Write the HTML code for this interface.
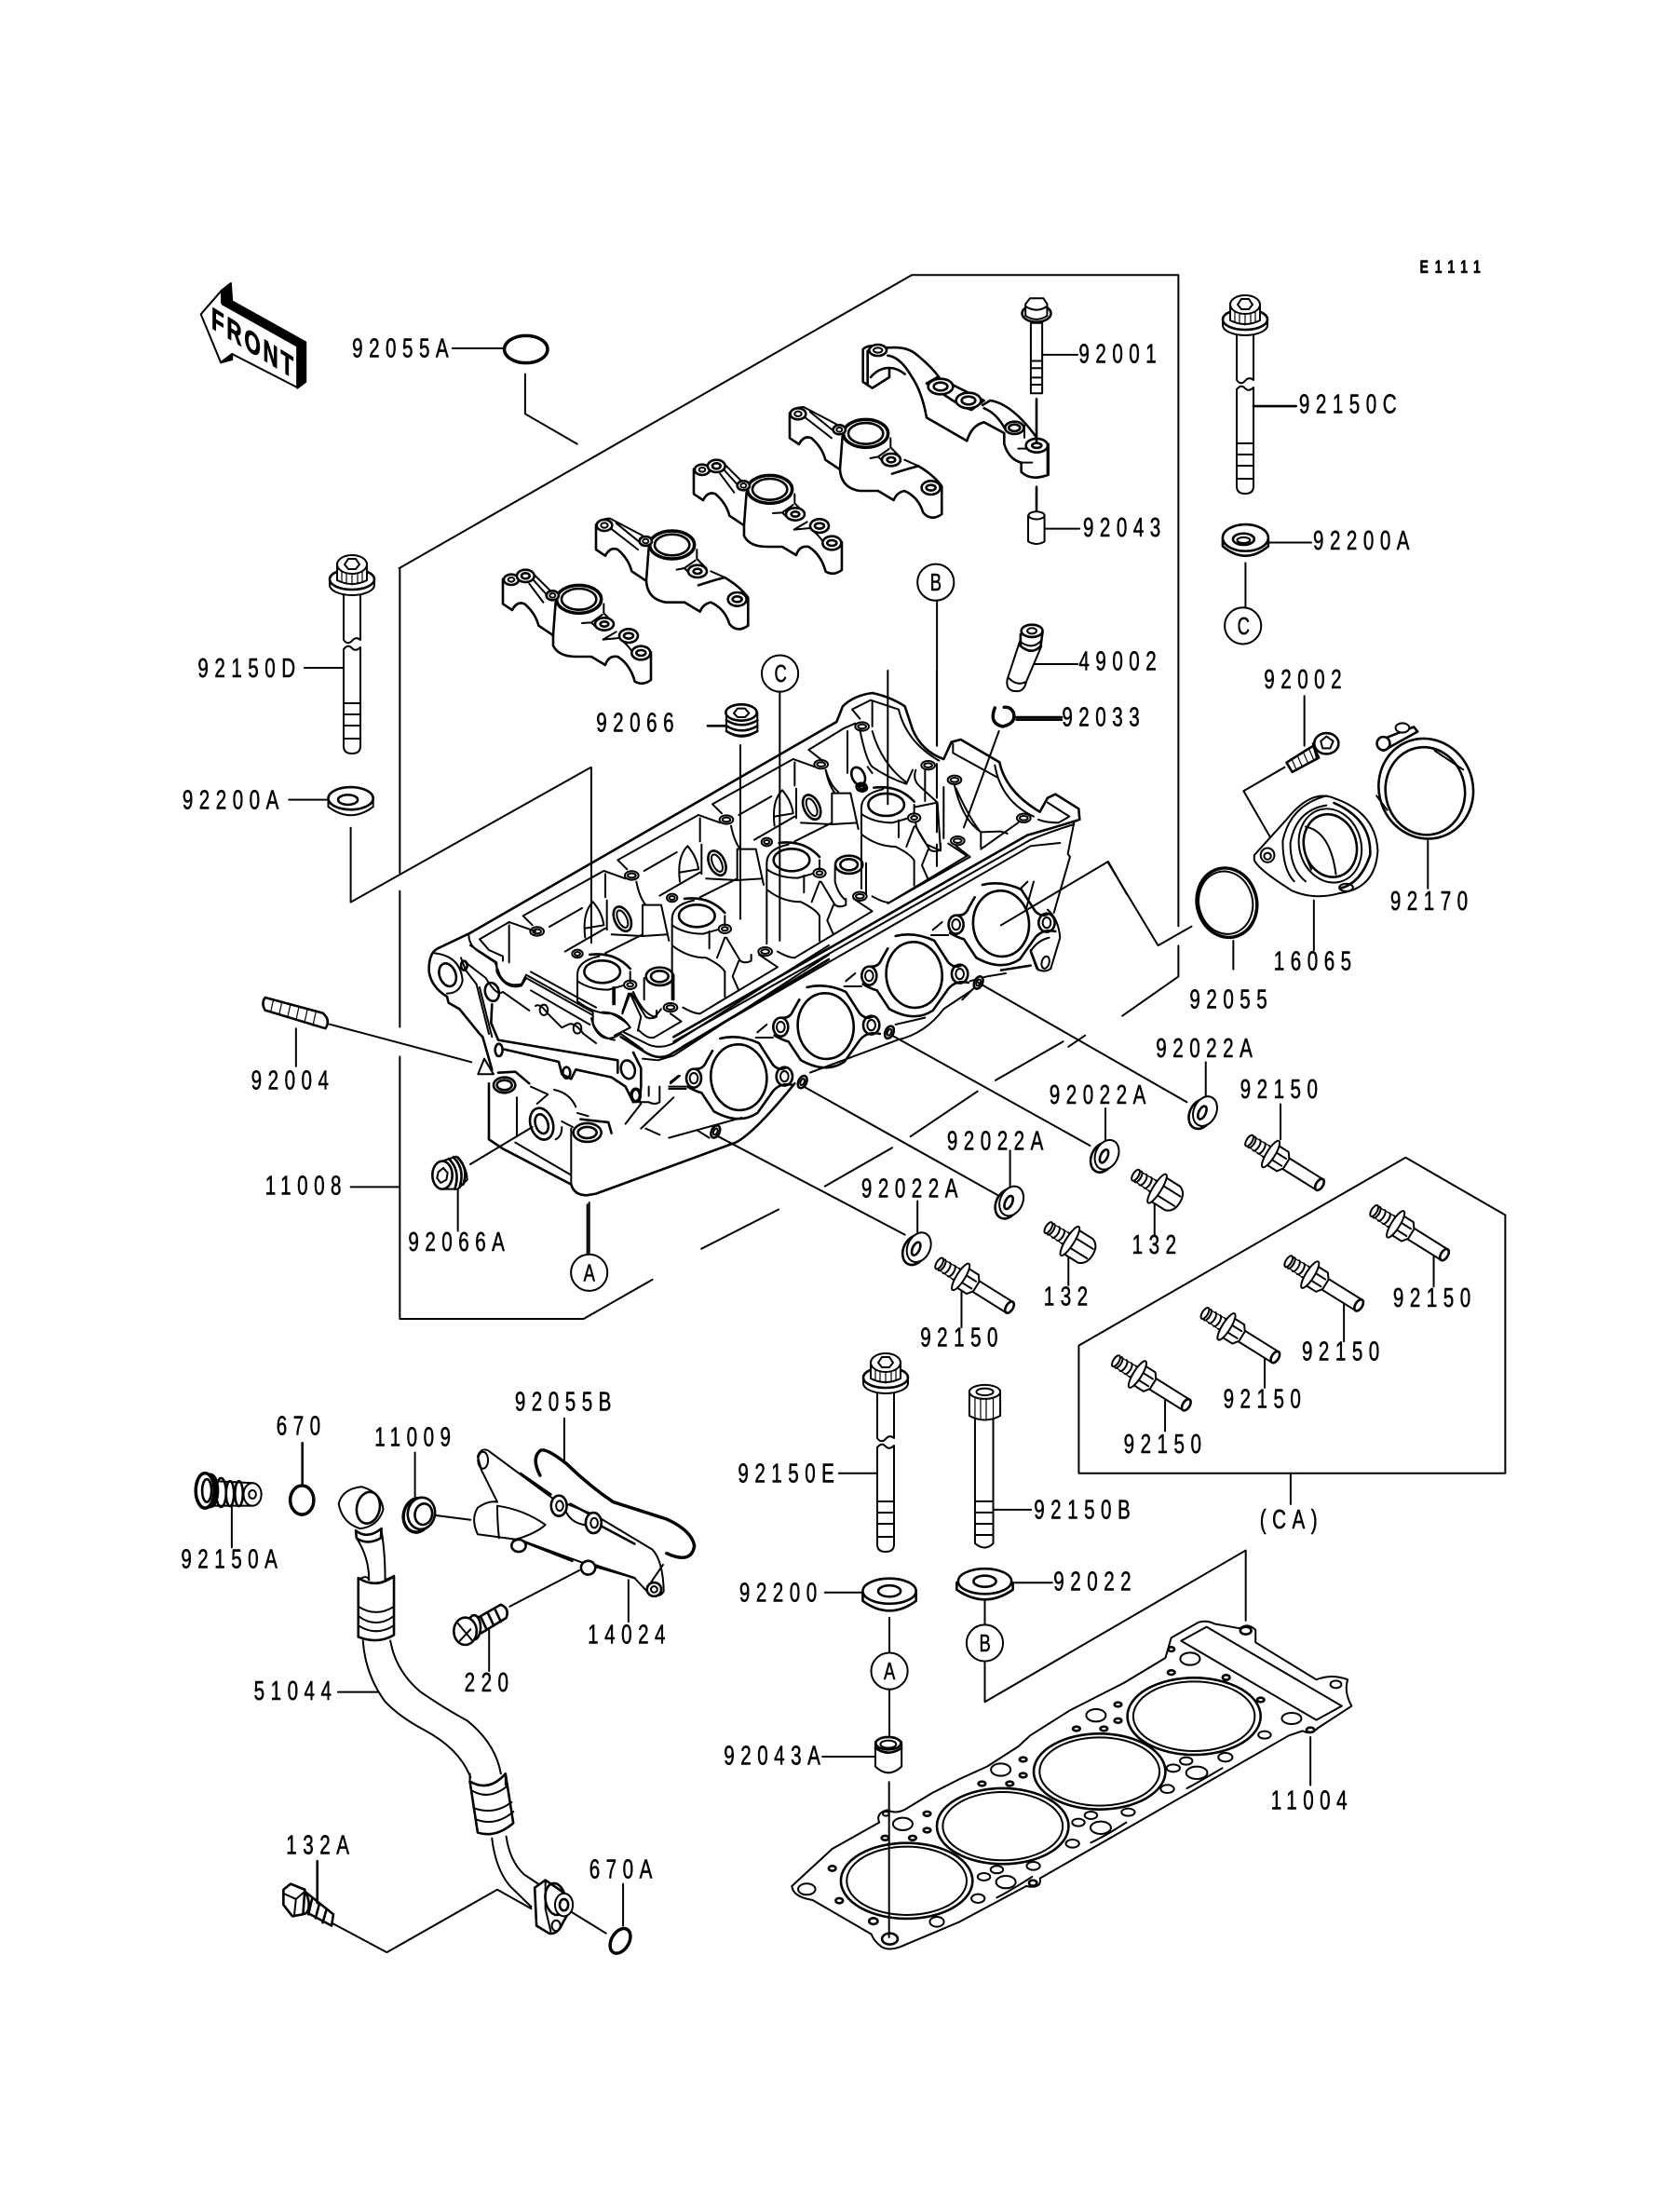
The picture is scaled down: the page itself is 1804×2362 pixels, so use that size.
<!DOCTYPE html>
<html><head><meta charset="utf-8"><style>
html,body{margin:0;padding:0;background:#fff}
svg{display:block}
svg *{vector-effect:non-scaling-stroke}
text{font-family:"Liberation Sans",sans-serif;fill:#000;stroke:#000;stroke-width:.5}
.h{stroke-width:3.5}
.m{stroke-width:2.6}
.w{fill:#fff}
.b{fill:#000}
.th{stroke-width:1.2}
</style></head><body>
<svg width="1804" height="2362" viewBox="0 0 1804 2362" fill="none" stroke="#000" stroke-width="2" stroke-linejoin="round" stroke-linecap="round">
<defs>
<g id="lb">
<path d="M-9 38V92Q-5 98 0 93Q4 88 9 92V38"/>
<path d="M-9 102Q-4 96 0 101Q4 105 9 100V206Q9 214 0 214Q-9 214-9 206Z"/>
<path d="M-9 160H9M-9 172H9M-9 184H9M-9 198H9"/>
<path class="w" d="M-24 27A24 11 0 0 0 24 27V33A24 11 0 0 1-24 33Z"/>
<ellipse class="w m" cx="0" cy="27" rx="24" ry="11"/>
<path class="w" d="M-16 10V28Q0 36 16 28V10Z"/>
<path class="th" d="M-11 16V30M-6 18V32M0 18V33M6 18V32M11 16V30"/>
<ellipse class="w" cx="0" cy="11" rx="16" ry="10"/>
<path d="M-8 11L-4 5H4L8 11L4 16H-4Z"/>
</g>
<!-- double-ended cap, crop coords -->
<g id="capD">
<path class="m" d="M45 95V175L75 195Q90 165 115 175Q150 205 160 245L205 275M215 170L207 275V310Q225 345 280 345H330L375 372Q385 340 415 345Q455 370 470 425Q495 440 522 420V330"/>
<path d="M145 80L195 130M130 110L175 170M145 100L190 150M370 175V205L400 235M300 237L330 235L365 210M330 235L350 255M368 290L410 265M368 290L420 285Q450 310 462 330"/>
<ellipse class="w h" cx="290" cy="160" rx="72" ry="45"/>
<ellipse class="m" cx="290" cy="160" rx="56" ry="34"/>
<ellipse class="w m" cx="72" cy="97" rx="24" ry="17"/><ellipse cx="72" cy="97" rx="10" ry="7"/>
<ellipse class="w m" cx="118" cy="85" rx="28" ry="20"/><ellipse class="m" cx="118" cy="85" rx="13" ry="9"/>
<ellipse class="w m" cx="205" cy="148" rx="20" ry="15"/><ellipse cx="205" cy="148" rx="9" ry="7"/>
<ellipse class="w m" cx="372" cy="240" rx="30" ry="20"/><ellipse class="m" cx="372" cy="240" rx="13" ry="8"/>
<ellipse class="w m" cx="450" cy="278" rx="30" ry="22"/><ellipse class="m" cx="450" cy="278" rx="15" ry="9"/>
<ellipse class="w m" cx="490" cy="333" rx="30" ry="22"/><ellipse class="m" cx="490" cy="333" rx="15" ry="9"/>
</g>
<!-- single-ended cap, crop coords (native at cap2) -->
<g id="capS">
<path class="m" d="M345 -80V0L375 20Q390 -10 415 0Q450 30 460 70L505 100M515 -5L507 100Q510 160 570 170H630L680 200Q690 175 715 170Q760 190 775 240Q800 270 835 245V155Q810 120 760 90Q720 100 675 115"/>
<path d="M345 -80Q360 -100 390 -100L495 -45M390 -70L480 0M410 -85L490 -20M670 0V30L700 60M605 65L630 60L665 35M630 60L650 80M715 70L760 90"/>
<ellipse class="w h" cx="590" cy="-15" rx="72" ry="45"/>
<ellipse class="m" cx="590" cy="-15" rx="56" ry="34"/>
<ellipse class="w m" cx="372" cy="-78" rx="25" ry="18"/><ellipse cx="372" cy="-78" rx="11" ry="8"/>
<ellipse class="w m" cx="505" cy="-27" rx="20" ry="15"/><ellipse cx="505" cy="-27" rx="9" ry="7"/>
<ellipse class="w m" cx="672" cy="70" rx="30" ry="20"/><ellipse class="m" cx="672" cy="70" rx="13" ry="8"/>
<ellipse class="w m" cx="800" cy="160" rx="30" ry="22"/><ellipse class="m" cx="800" cy="160" rx="15" ry="9"/>
</g>
<!-- head parts in B-crop coords -->
<g id="upper">
<path d="M15 430L275 285L345 310M15 430L45 460M100 465L205 405M280 295V370M285 380V475"/>
<path d="M240 385Q205 420 215 500M240 385Q270 420 275 460L215 470"/>
<ellipse class="m" cx="335" cy="440" rx="25" ry="42" transform="rotate(-25 335 440)"/>
<ellipse cx="335" cy="440" rx="14" ry="30" transform="rotate(-25 335 440)"/>
<path d="M380 320Q390 370 410 395M400 395V495M400 395H460L485 510M300 490L400 495L480 490M150 545L280 470M280 550L400 490"/>
</g>
<g id="core">
<path class="m" d="M230 555Q310 545 360 600"/>
<path d="M190 620Q190 575 260 560M360 610V640M190 640Q230 668 290 668L335 655"/>
<ellipse class="m" cx="270" cy="610" rx="58" ry="36"/>
<path d="M190 620V705Q240 745 300 745Q350 770 360 790M310 660V715M360 680L335 745M365 680L410 755Q425 765 445 755L445 735"/>
<ellipse cx="190" cy="552" rx="17" ry="13"/><ellipse cx="190" cy="552" rx="9" ry="6"/>
<ellipse cx="360" cy="652" rx="20" ry="14"/><ellipse cx="360" cy="652" rx="10" ry="6"/>
<ellipse cx="60" cy="480" rx="22" ry="14"/><ellipse cx="60" cy="480" rx="13" ry="7"/>
</g>
<g id="floor">
<path d="M360 790V870M190 710V880M405 755L385 805L405 850M225 905Q260 925 280 925L530 775L470 735"/>
<ellipse cx="185" cy="905" rx="22" ry="14"/><ellipse cx="185" cy="905" rx="13" ry="7"/>
</g>
<g id="port">
<ellipse class="m" cx="380" cy="1145" rx="90" ry="106" transform="rotate(-5 380 1145)"/>
<ellipse class="m" cx="235" cy="1148" rx="24" ry="30"/><ellipse cx="235" cy="1148" rx="13" ry="17"/>
<ellipse class="m" cx="527" cy="1142" rx="26" ry="30"/><ellipse cx="527" cy="1142" rx="13" ry="17"/>
<path class="m" d="M215 1175Q240 1190 260 1195L300 1255Q380 1300 440 1260L490 1190Q515 1160 555 1170"/>
<path class="m" d="M240 1118Q265 1120 275 1095L295 1060M320 1020Q380 1005 445 1035L490 1105Q510 1125 530 1115"/>
<path d="M155 1182H210M160 1165L190 1140"/>
</g>
<g id="sb">
<path class="th" d="M-16-4L-3-4.500M-16 4L-3 4.500"/>
<path d="M-15-4.500A2 4.500 0 0 1-15 4.500M-11-4.500A2 4.500 0 0 1-11 4.500M-7-4.500A2 4.500 0 0 1-7 4.500M-3-4.500A2 4.500 0 0 1-3 4.500"/>
<ellipse cx="-17" cy="0" rx="2" ry="4.500"/>
<path class="w" d="M10-4.500H42V4.500H10Z"/>
<ellipse class="w m" cx="42" cy="0" rx="2.500" ry="4.500"/>
<path class="w" d="M2-8H11L14-4V4L11 8H2Z"/>
<path d="M3-3H12M3 3H12"/>
<ellipse class="w" cx="1" cy="0" rx="3" ry="11"/>
</g>
<g id="sh">
<path d="M-15-4.500A2 4.500 0 0 1-15 4.500M-11-4.500A2 4.500 0 0 1-11 4.500M-7-4.500A2 4.500 0 0 1-7 4.500M-3-4.500A2 4.500 0 0 1-3 4.500"/>
<ellipse cx="-17" cy="0" rx="2" ry="4.500"/>
<path class="th" d="M-16-4L-3-4.500M-16 4L-3 4.500"/>
<path class="w" d="M2-10H14Q20-8 20 0Q20 8 14 10H2Z"/>
<path d="M3-4H18M3 4H18"/>
<ellipse class="w" cx="1" cy="0" rx="3" ry="12"/>
</g>
</defs>

<!-- front, ring -->
<g transform="translate(180 260) scale(.4464 .3333)">
<path class="w" d="M80 232L130 155V195L312 335V468L155 360L128 388Z"/>
<path class="b" d="M130 155L152 132L155 190L332 322V450L312 470V335L132 200Z"/>
<path class="b" d="M128 388L155 378V360Z"/>
<ellipse class="h" cx="862" cy="345" rx="52" ry="44"/>
<path d="M685 342H808M860 425V553L985 650"/>
</g>
<text font-size="33" font-weight="700" letter-spacing="4" style="stroke-width:.8" transform="matrix(.68 .42 0 1 227 352)">FRONT</text>

<!-- bearing caps -->
<g transform="translate(525 590) scale(.3333)">
<use href="#capD"/>
<use href="#capS"/>
<use href="#capD" transform="translate(615 -354)"/>
<use href="#capS" transform="translate(624 -359)"/>
</g>
<g transform="translate(900 340) scale(.3333)">
<path class="m" d="M80 105Q95 90 125 95L160 100Q220 95 250 120Q300 160 325 195M80 105V210L110 230L165 195V165Q130 165 105 195M95 110V215M160 125Q200 130 235 190Q270 240 285 325L415 400Q430 350 470 340L535 375V410Q550 460 590 470V500Q620 530 675 510V415M465 285L490 270Q560 280 640 390M470 295Q510 310 540 365M165 165Q190 165 215 185"/>
<path class="m" d="M285 215L320 195L470 270L430 300L400 290Z"/>
<ellipse class="w m" cx="128" cy="108" rx="28" ry="18"/><ellipse cx="128" cy="108" rx="14" ry="8"/>
<ellipse class="w m" cx="330" cy="225" rx="40" ry="25"/><ellipse class="m" cx="330" cy="225" rx="22" ry="13"/>
<ellipse class="w m" cx="420" cy="270" rx="40" ry="25"/><ellipse class="m" cx="420" cy="270" rx="22" ry="13"/>
<ellipse class="w m" cx="568" cy="358" rx="30" ry="20"/><ellipse class="m" cx="568" cy="358" rx="18" ry="11"/>
<ellipse class="w m" cx="640" cy="415" rx="35" ry="22"/><ellipse class="m" cx="640" cy="415" rx="15" ry="8"/>
<path d="M600 350V390M678 410V510M580 425H610M585 470H625"/>
</g>

<use href="#lb" transform="translate(378 595)"/>
<use href="#lb" transform="translate(1337 316)"/>
<use href="#lb" transform="translate(951 1452)"/>

<!-- Head: crop B coordinates -->
<g transform="translate(760 720) scale(.3333)">
<use href="#upper" transform="translate(-610 360)"/>
<use href="#upper" transform="translate(-305 180)"/>
<use href="#upper"/>
<use href="#core" transform="translate(-610 360)"/>
<use href="#core" transform="translate(-305 180)"/>
<use href="#core"/>
<use href="#core" transform="translate(305 -178)"/>
<use href="#floor" transform="translate(-305 180)"/>
<use href="#floor"/>
<use href="#floor" transform="translate(305 -178)"/>
<ellipse class="m" cx="455" cy="625" rx="44" ry="29"/><ellipse class="m" cx="455" cy="625" rx="28" ry="18"/>
<path d="M410 630V680Q420 720 445 740M510 620V720"/>
<ellipse class="m" cx="-155" cy="985" rx="44" ry="29"/><ellipse class="m" cx="-155" cy="985" rx="28" ry="18"/>
<path d="M-205 990V1060M-110 980V1060"/>
<path class="m" d="M-765 845L415 165L435 115Q470 80 530 72Q590 85 635 115L660 190Q690 260 760 285L785 230L815 222L940 295Q960 390 1070 455L1095 410L1120 398L1195 445L1198 480"/>
<path d="M325 255L440 185L475 170M325 255L370 290M465 125L525 95L615 125Q640 230 745 290M465 125L490 155M1095 425L1165 470L1130 490Q1090 490 1065 480"/>
<path d="M790 235V265L935 345M795 370Q820 480 880 520V570M880 575L1000 490M880 520L945 518L965 525M800 380Q840 470 875 515M760 375V540M925 305Q945 420 1050 470M530 100V180M490 190Q510 290 530 310Q580 345 640 365L660 320M530 195Q560 300 640 360M450 195V330M380 320Q395 370 420 390M700 320V420M670 320Q660 350 680 370L740 425L750 580L705 560Q670 510 670 490M665 440L740 425"/>
<ellipse class="m" cx="485" cy="340" rx="20" ry="30" transform="rotate(-25 485 340)"/>
<path d="M515 310L530 330"/>
<ellipse cx="497" cy="180" rx="22" ry="14"/><ellipse cx="497" cy="180" rx="13" ry="7"/>
<ellipse cx="710" cy="305" rx="22" ry="14"/><ellipse cx="710" cy="305" rx="13" ry="7"/>
<ellipse cx="795" cy="352" rx="22" ry="14"/><ellipse cx="795" cy="352" rx="13" ry="7"/>
<ellipse cx="1018" cy="475" rx="22" ry="14"/><ellipse cx="1018" cy="475" rx="13" ry="7"/>
<ellipse cx="805" cy="548" rx="22" ry="14"/><ellipse cx="805" cy="548" rx="13" ry="7"/>
<ellipse cx="497" cy="378" rx="17" ry="12"/><ellipse cx="497" cy="378" rx="9" ry="6"/>
<path d="M580 750L845 600L800 565"/>
<path class="m" d="M1192 482Q1100 510 1030 530L-110 1180"/>
<path d="M1180 495Q1100 520 1040 545L-110 1195M1135 555L1040 565L-80 1210"/>
<path d="M1180 490L1160 590L1167 600L1115 780"/>
<use href="#port" transform="translate(-280 165)"/>
<use href="#port"/>
<use href="#port" transform="translate(285 -165)"/>
<use href="#port" transform="translate(565 -330)"/>
<path d="M1095 770Q1130 800 1135 860L1105 960Q1085 975 1060 960L1040 905Q1060 870 1100 860M1040 900L1065 965M1050 680L1025 770M1030 680L1005 705"/>
<ellipse cx="1088" cy="940" rx="12" ry="20" transform="rotate(15 1088 940)"/>
<path class="m" d="M945 965L1040 950"/>
<path d="M845 1000L900 985L960 975M820 1060L860 1020M605 1140L700 1118M330 1295L610 1190Q700 1170 760 1090L850 1030"/>
<g class="m">
<ellipse class="w" cx="872" cy="1005" rx="13" ry="21" transform="rotate(25 872 1005)"/>
<ellipse class="w" cx="585" cy="1165" rx="13" ry="21" transform="rotate(25 585 1165)"/>
<ellipse class="w" cx="305" cy="1325" rx="13" ry="21" transform="rotate(25 305 1325)"/>
</g>
<ellipse cx="872" cy="1005" rx="6" ry="11" transform="rotate(25 872 1005)"/>
<ellipse cx="585" cy="1165" rx="6" ry="11" transform="rotate(25 585 1165)"/>
<ellipse cx="305" cy="1325" rx="6" ry="11" transform="rotate(25 305 1325)"/>
<path d="M232 60V870M105 240V800M580 0V430M738 0V240M738 300V410M738 430V520M738 560V630M938 195L825 505M945 820L1290 615L1350 720"/>
<!-- 92066 plug -->
<path class="w" d="M60 135V195Q108 230 160 195V135Z"/>
<path class="m" d="M60 160Q108 190 160 160M60 178Q108 208 160 178M60 195Q108 225 160 195"/>
<ellipse class="w m" cx="108" cy="135" rx="50" ry="26"/>
<path d="M84 137L96 122H120L133 137L120 150H96Z"/>
<path class="m" d="M0 178H58"/>
<path class="h" d="M925 120Q905 170 950 180Q995 170 985 135Q975 115 955 118"/>
<path class="m" d="M995 150H1140M995 158H1140"/>
</g>

<!-- Head: crop A coordinates -->
<g transform="translate(440 900) scale(.3333)">
<path class="m" d="M90 355L195 305M90 355Q60 370 62 430Q70 480 120 510L125 530L160 550L225 630L235 640L265 745"/>
<path d="M80 370Q165 380 170 460Q160 500 120 500"/>
<ellipse class="m" cx="122" cy="440" rx="26" ry="38" transform="rotate(-20 122 440)"/>
<ellipse class="m" cx="175" cy="410" rx="10" ry="15"/>
<path d="M165 385L180 425L215 470L255 630M225 480L265 640M180 400L245 450Q280 510 300 495L385 555"/>
<path d="M190 310Q190 340 215 360L275 400L290 440Q310 480 360 470L375 440L590 560V600Q620 670 680 630L750 680"/>
<path d="M195 345L280 400V430Q310 490 360 475L375 450L590 570M225 325L320 270L405 300M225 325L255 360L300 380V395M320 280V400M390 430L600 545M620 560Q680 560 710 610L690 620L660 635M585 580Q600 640 660 650M390 490L580 600"/>
<path class="m" d="M680 640L760 690Q810 720 850 690L1350 390"/>
<path d="M690 625L770 665Q810 680 850 660L1350 345M750 710L800 715L850 700L1350 375"/>
<path d="M405 540Q420 530 445 565L490 610L510 600Q530 590 560 630L600 660"/>
<path class="m" d="M265 535L262 595L285 650L670 715V755M305 680L480 720L490 760L520 775L535 745L650 770L695 800L720 850M720 690L745 740V800L740 850"/>
<ellipse class="m" cx="265" cy="495" rx="22" ry="30" transform="rotate(-15 265 495)"/>
<ellipse class="m" cx="287" cy="682" rx="12" ry="20"/>
<ellipse class="m" cx="505" cy="755" rx="12" ry="18"/>
<ellipse class="m" cx="703" cy="745" rx="22" ry="30" transform="rotate(-15 703 745)"/>
<ellipse class="h" cx="728" cy="828" rx="14" ry="20"/>
<ellipse cx="432" cy="553" rx="13" ry="17"/>
<ellipse cx="540" cy="612" rx="13" ry="17"/>
<path d="M655 480V535M705 500L685 560M710 500L745 575L735 620M720 495Q755 570 790 575L810 550M740 620Q770 650 790 640L875 590L840 565M850 440V520"/>
<path class="m" d="M255 790V970L300 1000L520 1115Q530 1150 570 1150L600 1145L1050 980Q1110 950 1240 790"/>
<path d="M340 980L520 1085M520 935V1115M345 835V960"/>
<ellipse class="m" cx="305" cy="795" rx="35" ry="25"/><ellipse class="m" cx="305" cy="795" rx="24" ry="16"/>
<path class="m" d="M285 755L340 752L385 790"/>
<ellipse class="m" cx="425" cy="920" rx="36" ry="52" transform="rotate(-18 425 920)"/>
<ellipse class="m" cx="425" cy="920" rx="20" ry="32" transform="rotate(-18 425 920)"/>
<ellipse class="m" cx="572" cy="948" rx="45" ry="30"/><ellipse class="m" cx="572" cy="948" rx="30" ry="18"/>
<path class="m" d="M550 905L640 915L650 950"/>
<path d="M390 800L445 825L410 855M465 810Q515 820 535 865M540 885L575 895M490 912L525 930M490 930Q490 960 470 970M220 760H270L240 710L220 760"/>
<path d="M695 920L745 855M745 935L850 835M760 935L805 955M835 965L1070 900M835 800H890M840 785L865 765M770 830V800M805 800V850Q790 860 770 850L745 850M925 940L965 965"/>
<ellipse class="m w" cx="985" cy="945" rx="13" ry="21" transform="rotate(25 985 945)"/>
<ellipse cx="985" cy="945" rx="6" ry="11" transform="rotate(25 985 945)"/>
<path d="M195 1050L395 930"/>
<path class="w" d="M105 1040L150 1025Q185 1060 185 1100L155 1130L105 1130Z"/>
<path class="m" d="M125 1032Q165 1070 145 1130M140 1027Q180 1065 160 1125M155 1028Q190 1065 172 1115"/>
<ellipse class="w m" cx="105" cy="1085" rx="32" ry="45"/>
<path d="M92 1075L108 1062L122 1078L118 1100L100 1110L88 1095Z"/>
<path d="M155 1130V1265M572 1180V1345"/>
</g>

<!-- Zoom 3 group -->
<g transform="translate(1000 260) scale(.408 .5102)">
<path class="w" d="M262 170V318H292V170Z"/>
<path d="M262 250H292M262 265H292M262 285H292M262 300H292M292 237H385"/>
<ellipse class="w m" cx="277" cy="150" rx="38" ry="18"/>
<path class="w" d="M248 130L260 118H295L305 130V155Q277 170 248 155Z"/>
<path d="M248 135Q277 150 305 135"/>
<path class="m" d="M277 330V420M277 515V570"/>
<path class="w" d="M255 575V630Q277 640 298 630V575Z"/>
<ellipse class="w" cx="277" cy="575" rx="21" ry="8"/>
<path d="M298 603H390"/>
<path class="m" d="M848 345H960"/>
<path class="w m" d="M767 625V640Q827 680 887 640V625Z"/>
<ellipse class="w m" cx="827" cy="622" rx="60" ry="28"/>
<ellipse class="m" cx="822" cy="625" rx="28" ry="12"/><ellipse cx="822" cy="627" rx="17" ry="6"/>
<path d="M890 632H1000M827 675V775"/>
<path class="w" d="M235 835L200 920Q195 945 225 945Q245 945 250 925L290 850Z"/>
<path d="M205 918Q225 935 250 925"/>
<path class="w m" d="M235 825V850Q265 870 288 850L293 820Z"/>
<path d="M233 840Q265 860 290 838"/>
<ellipse class="w m" cx="265" cy="818" rx="28" ry="13"/><ellipse cx="265" cy="818" rx="12" ry="6"/>
<path d="M270 888H385"/>
<path d="M15 750V1060"/>
<path class="w m" d="M935 1095L1005 1060L1020 1085L950 1115Z"/>
<path class="th" d="M950 1090L962 1112M965 1083L977 1105M980 1075L992 1097M995 1068L1007 1090"/>
<ellipse class="w m" cx="1040" cy="1055" rx="32" ry="22"/>
<path class="m" d="M1005 1055L1015 1085"/>
<path d="M1025 1050L1040 1040L1058 1050L1050 1065L1030 1065Z"/>
<path d="M982 955V1060M930 1105L822 1155L905 1270"/>
<path class="w" d="M850 1290L935 1215Q1000 1150 1060 1170Q1170 1200 1175 1280Q1170 1360 1075 1370Q1010 1385 950 1365Q860 1320 850 1300Z"/>
<path d="M1040 1165Q945 1185 925 1260Q925 1320 955 1345M1040 1185Q960 1195 945 1265Q945 1320 985 1345"/>
<path class="m" d="M1060 1180Q1160 1215 1155 1290Q1130 1350 1075 1360"/>
<ellipse cx="1050" cy="1270" rx="85" ry="75" transform="rotate(30 1050 1270)"/>
<ellipse class="m" cx="1050" cy="1270" rx="72" ry="64" transform="rotate(30 1050 1270)"/>
<path d="M985 1230Q1050 1240 1065 1330M990 1300L1000 1320"/>
<ellipse cx="885" cy="1290" rx="18" ry="15"/><ellipse cx="885" cy="1292" rx="9" ry="7"/>
<ellipse cx="1092" cy="1358" rx="18" ry="8"/>
<path d="M1007 1385V1490"/>
<ellipse class="m" cx="1302" cy="1150" rx="125" ry="105" transform="rotate(8 1302 1150)"/>
<ellipse class="m" cx="1300" cy="1155" rx="105" ry="92" transform="rotate(8 1300 1155)"/>
<path d="M1172 1165L1200 1195M1325 1070L1400 1110"/>
<path class="w m" d="M1175 1050L1270 1020L1280 1030L1190 1070Z"/>
<ellipse class="m w" cx="1190" cy="1055" rx="17" ry="14"/>
<ellipse class="w" cx="1240" cy="1022" rx="18" ry="10"/>
<path d="M1307 1260V1360"/>
<ellipse class="h" cx="778" cy="1390" rx="80" ry="72" transform="rotate(20 778 1390)"/>
<ellipse cx="775" cy="1390" rx="72" ry="65" transform="rotate(20 775 1390)"/>
<path d="M795 1470V1530"/>
<path d="M465 1305L597 1480L685 1440"/>
</g>

<!-- Zoom 4 group -->
<g transform="translate(180 1480) scale(.3827 .408)">
<path class="w" d="M130 270L240 275Q265 305 240 335L130 335Z"/>
<g class="m"><ellipse cx="150" cy="300" rx="14" ry="38"/><ellipse cx="175" cy="303" rx="11" ry="33"/><ellipse cx="200" cy="303" rx="11" ry="33"/></g>
<ellipse class="w" cx="238" cy="305" rx="25" ry="30"/><ellipse cx="238" cy="305" rx="10" ry="11"/>
<ellipse class="h" cx="120" cy="295" rx="20" ry="42"/>
<ellipse class="w h" cx="105" cy="295" rx="26" ry="46"/>
<ellipse class="m" cx="110" cy="295" rx="13" ry="30"/>
<path d="M180 335V445"/>
<ellipse class="h" cx="377" cy="320" rx="33" ry="38"/>
<path class="m" d="M378 170V280"/>
<ellipse class="w h" cx="700" cy="360" rx="38" ry="45" transform="rotate(15 700 360)"/>
<ellipse class="m w" cx="712" cy="355" rx="38" ry="42" transform="rotate(15 712 355)"/>
<ellipse class="m" cx="718" cy="357" rx="24" ry="28" transform="rotate(15 718 357)"/>
<path d="M694 195V310M750 360L850 372"/>
<path d="M530 420Q565 470 565 530M600 400Q612 470 610 545"/>
<path class="w" d="M480 330Q490 290 545 285Q600 300 605 345Q590 390 540 395Q490 380 480 330Z"/>
<ellipse class="w m" cx="563" cy="340" rx="32" ry="42" transform="rotate(15 563 340)"/>
<path class="w m" d="M528 400Q560 425 600 395L598 420Q560 440 530 420Z"/>
<path class="w m" d="M535 525Q585 555 635 520V675Q590 700 535 680Z"/>
<path d="M535 530Q560 515 565 530M610 530L635 520M535 600Q585 630 635 600M535 625Q585 660 635 625M535 650Q585 680 635 650"/>
<path d="M548 690Q555 780 610 850Q650 890 720 925Q820 975 850 1050M625 690Q640 770 710 825Q780 870 840 900Q920 960 935 1040"/>
<path class="w m" d="M848 1060Q900 1090 948 1040L970 1170Q920 1210 870 1195Z"/>
<path d="M848 1060V1040M948 1040V1070M855 1085Q900 1110 950 1075M858 1130Q915 1150 965 1115M865 1160Q920 1180 970 1140"/>
<path d="M910 1210Q920 1290 960 1335L1020 1390M950 1205Q960 1270 1000 1305L1040 1330"/>
<path class="w m" d="M1030 1340L1060 1320L1130 1365Q1140 1385 1110 1430Q1095 1465 1070 1460L1035 1440Z"/>
<path d="M1060 1320L1060 1395L1075 1455"/>
<ellipse class="m" cx="1088" cy="1370" rx="28" ry="42" transform="rotate(-10 1088 1370)"/>
<ellipse class="w" cx="1112" cy="1385" rx="25" ry="30"/><ellipse class="m" cx="1112" cy="1385" rx="12" ry="15"/>
<ellipse cx="1090" cy="1440" rx="12" ry="14"/>
<path d="M1135 1405L1230 1460M1278 1330V1440"/>
<ellipse class="h" cx="1270" cy="1480" rx="24" ry="36" transform="rotate(35 1270 1480)"/>
<path class="w m" d="M385 1350L465 1410L460 1440L370 1395Z"/>
<path class="m" d="M385 1355L375 1395M405 1370L395 1410M425 1385L415 1420M445 1400L435 1432"/>
<ellipse class="w m" cx="375" cy="1375" rx="20" ry="35" transform="rotate(-15 375 1375)"/>
<path class="w m" d="M325 1345L345 1330L385 1345L380 1410L350 1415L325 1385Z"/>
<path d="M325 1355L360 1370L355 1415M360 1370L385 1350"/>
<path class="m" d="M420 1270V1380"/>
<path d="M465 1435L615 1510L925 1345L1020 1395"/>
<path class="w m" d="M860 635L935 595Q960 605 950 630L880 670Z"/>
<path class="m" d="M880 630L895 660M900 620L915 650M920 610L935 640"/>
<ellipse class="w m" cx="860" cy="655" rx="18" ry="32"/>
<ellipse class="w m" cx="835" cy="665" rx="32" ry="36"/>
<path d="M815 645L855 690M820 690L850 660"/>
<path d="M960 600L1155 505M902 660V770"/>
<path class="w" d="M870 205Q880 180 900 190L1080 315L1200 360L1360 450Q1390 480 1392 560Q1380 580 1350 565L1310 525L1180 490L990 425L870 410Q850 370 870 340Q900 320 925 325L880 240Z"/>
<path d="M925 335Q1000 345 1060 385Q1030 410 970 425M925 335Q925 380 930 420M1115 345Q1130 380 1170 385M1390 490L1350 545"/>
<path class="m" d="M990 250L1075 305M1130 330L1190 360M1220 390L1310 435M1000 430L1135 480M1195 490L1310 525"/>
<ellipse class="w m" cx="1098" cy="335" rx="22" ry="27"/><ellipse cx="1100" cy="335" rx="10" ry="13"/>
<ellipse class="w m" cx="1195" cy="380" rx="22" ry="27"/><ellipse cx="1197" cy="380" rx="10" ry="13"/>
<ellipse class="w m" cx="985" cy="440" rx="20" ry="16"/>
<ellipse class="w m" cx="1180" cy="498" rx="20" ry="18"/>
<ellipse class="w m" cx="1365" cy="555" rx="20" ry="18"/><ellipse cx="1365" cy="555" rx="9" ry="8"/>
<ellipse cx="885" cy="215" rx="14" ry="22"/>
<path class="h" d="M1045 255Q1020 210 1045 190Q1060 180 1120 225Q1180 280 1250 325L1400 370Q1470 400 1478 440Q1470 490 1400 460"/>
<path d="M1113 105V220M1293 530V640"/>
<path d="M478 825H590"/>
</g>

<!-- Zoom 5 group -->
<g transform="translate(820 1700) scale(.4209 .3333)">
<path d="M300 1170Q280 1150 275 1130L125 1020Q75 1010 72 975L175 855L295 770Q285 740 315 730Q340 745 365 725L430 675L500 630L570 590L650 525L680 490L780 410L920 320L1025 240L1040 175L1110 125Q1130 118 1150 130L1215 145Q1235 125 1255 150V190L1410 310Q1450 290 1490 310Q1480 350 1500 395L1415 465Q1395 490 1375 475L1340 490L705 950Q710 985 670 975L500 1090L350 1170Q320 1185 300 1170Z"/>
<path d="M1065 185L1130 140L1475 395L1410 440Z"/>
<g class="m">
<ellipse cx="365" cy="958" rx="168" ry="122"/>
<ellipse cx="610" cy="782" rx="168" ry="122"/>
<ellipse cx="857" cy="606" rx="168" ry="122"/>
<ellipse cx="1098" cy="428" rx="170" ry="124"/>
</g>
<g>
<ellipse cx="365" cy="958" rx="153" ry="110"/>
<ellipse cx="610" cy="782" rx="153" ry="110"/>
<ellipse cx="857" cy="606" rx="153" ry="110"/>
<ellipse cx="1098" cy="428" rx="155" ry="112"/>
<ellipse cx="110" cy="985" rx="22" ry="18"/><ellipse class="m" cx="175" cy="918" rx="9" ry="8"/><ellipse class="m" cx="193" cy="1022" rx="9" ry="8"/><ellipse class="m" cx="280" cy="1088" rx="11" ry="10"/><ellipse cx="442" cy="1090" rx="18" ry="16"/><ellipse class="m" cx="322" cy="1145" rx="20" ry="18"/><ellipse cx="355" cy="775" rx="25" ry="20"/><ellipse class="m" cx="417" cy="742" rx="9" ry="7"/><ellipse class="m" cx="417" cy="795" rx="9" ry="7"/><ellipse class="m" cx="310" cy="820" rx="9" ry="7"/><ellipse class="m" cx="380" cy="820" rx="9" ry="7"/><ellipse cx="312" cy="742" rx="8" ry="7"/><ellipse cx="605" cy="600" rx="25" ry="20"/><ellipse class="m" cx="662" cy="567" rx="9" ry="7"/><ellipse class="m" cx="662" cy="618" rx="9" ry="7"/><ellipse class="m" cx="557" cy="645" rx="9" ry="7"/><ellipse class="m" cx="628" cy="645" rx="9" ry="7"/><ellipse cx="848" cy="425" rx="25" ry="20"/><ellipse class="m" cx="904" cy="390" rx="9" ry="7"/><ellipse class="m" cx="904" cy="442" rx="9" ry="7"/><ellipse class="m" cx="798" cy="468" rx="9" ry="7"/><ellipse class="m" cx="868" cy="468" rx="9" ry="7"/><ellipse cx="1088" cy="243" rx="25" ry="20"/><ellipse class="m" cx="1040" cy="212" rx="8" ry="7"/><ellipse class="m" cx="1040" cy="287" rx="9" ry="7"/><ellipse class="m" cx="1180" cy="303" rx="9" ry="8"/><ellipse class="m" cx="1268" cy="375" rx="9" ry="7"/><ellipse cx="1347" cy="435" rx="25" ry="18"/><ellipse cx="1460" cy="325" rx="14" ry="12"/><ellipse class="m" cx="1230" cy="152" rx="14" ry="12"/><ellipse class="m" cx="1395" cy="472" rx="10" ry="8"/><ellipse cx="1278" cy="488" rx="16" ry="12"/><ellipse cx="1178" cy="560" rx="18" ry="14"/><ellipse cx="1078" cy="572" rx="16" ry="12"/><ellipse cx="1045" cy="595" rx="17" ry="12"/><ellipse cx="1105" cy="610" rx="27" ry="20"/><ellipse cx="1030" cy="662" rx="17" ry="13"/><ellipse cx="930" cy="737" rx="17" ry="12"/><ellipse cx="835" cy="747" rx="16" ry="12"/><ellipse cx="803" cy="770" rx="16" ry="12"/><ellipse cx="860" cy="787" rx="26" ry="20"/><ellipse cx="788" cy="838" rx="17" ry="13"/><ellipse cx="688" cy="910" rx="17" ry="13"/><ellipse cx="595" cy="922" rx="16" ry="12"/><ellipse cx="562" cy="945" rx="16" ry="12"/><ellipse cx="618" cy="962" rx="25" ry="20"/><ellipse cx="547" cy="1015" rx="17" ry="14"/><ellipse class="m" cx="687" cy="965" rx="10" ry="9"/>
</g>
<path d="M1080 660Q1110 640 1170 595M835 835Q870 815 925 770M595 1012Q630 990 685 945"/>
<path class="w" d="M285 510V590Q318 630 352 590V510Z"/>
<path class="m" d="M285 530Q318 560 352 530"/>
<ellipse class="w m" cx="318" cy="515" rx="32" ry="20"/>
<ellipse cx="318" cy="518" rx="20" ry="12"/>
<path d="M150 558H285M320 640V1140M1395 495V650"/>
</g>

<!-- Overview coordinates -->
<g transform="scale(1.5064)">
<path d="M284.500 405L650 196H840V660M840 674V696L800 724M773.500 738L761.600 746M757.800 742.300L709.600 770M696.800 777.800L649 810M636 818L588 845.500M555 862L500 890M465 912L416 940H285V753M285 732V635M285 622V405"/>
<path d="M250 590V643L421 547M421.500 547V672"/>
<ellipse class="w" cx="556" cy="480" rx="13" ry="13"/>
<ellipse class="w" cx="667" cy="415" rx="13" ry="13"/>
<ellipse class="w" cx="886" cy="446" rx="13" ry="13"/>
<ellipse class="w" cx="420" cy="907" rx="13" ry="13"/>
<ellipse class="w" cx="634" cy="1191" rx="13" ry="13"/>
<ellipse class="w" cx="702" cy="1171" rx="13" ry="13"/>
<path d="M217 476H244M206 570H233M420 857V893M250 846H284M211 733V760M598 1050H625M709 1076H735M722 1128H750M588 1135H615M634 1153V1178M634 1205V1237M702 1140V1158M702 1185V1213L888 1105V1155M920 1050V1072M859.500 757V782M788 790V812M720 820V846M654 856V878M912.800 787V812M685.400 920V946M1022 893V917M958 927V956M901.500 965V989M830.500 996V1020M823 855V881M761.600 894V916"/>
<path d="M697.500 700.400L846 785.500M636 738L777 816.500M574 775L713.400 853M512 810L645 880"/>
<path d="M769 959L1002 825L1073 866V1050H769Z"/>
<path class="w" d="M234 570V575Q250 587 266 575V570Z"/>
<ellipse class="w m" cx="250" cy="569" rx="16" ry="8"/>
<ellipse class="m" cx="248" cy="570" rx="7" ry="3.500"/>
<g>
<ellipse class="w m" cx="856" cy="794" rx="8" ry="11" transform="rotate(25 856 794)"/>
<ellipse class="w" cx="859" cy="792" rx="8" ry="11" transform="rotate(25 859 792)"/>
<ellipse class="m" cx="857" cy="793" rx="2.500" ry="5" transform="rotate(25 857 793)"/>
<ellipse class="w m" cx="786" cy="825" rx="8" ry="11" transform="rotate(25 786 825)"/>
<ellipse class="w" cx="789" cy="823" rx="8" ry="11" transform="rotate(25 789 823)"/>
<ellipse class="m" cx="787" cy="824" rx="2.500" ry="5" transform="rotate(25 787 824)"/>
<ellipse class="w m" cx="718" cy="858" rx="8" ry="11" transform="rotate(25 718 858)"/>
<ellipse class="w" cx="721" cy="856" rx="8" ry="11" transform="rotate(25 721 856)"/>
<ellipse class="m" cx="719" cy="857" rx="2.500" ry="5" transform="rotate(25 719 857)"/>
<ellipse class="w m" cx="652" cy="891" rx="8" ry="11" transform="rotate(25 652 891)"/>
<ellipse class="w" cx="655" cy="889" rx="8" ry="11" transform="rotate(25 655 889)"/>
<ellipse class="m" cx="653" cy="890" rx="2.500" ry="5" transform="rotate(25 653 890)"/>
</g>
<use href="#sb" transform="translate(905 822) rotate(32)"/>
<use href="#sb" transform="translate(684 909.500) rotate(32)"/>
<use href="#sb" transform="translate(994 872) rotate(32)"/>
<use href="#sb" transform="translate(933 908) rotate(32)"/>
<use href="#sb" transform="translate(873.400 945) rotate(32)"/>
<use href="#sb" transform="translate(810 979) rotate(32)"/>
<use href="#sh" transform="translate(824 846.600) rotate(32)"/>
<use href="#sh" transform="translate(761.800 884) rotate(32)"/>
<path class="w" d="M695 1010V1100Q702 1106 708 1100V1010Z"/>
<path d="M695 1070H708M695 1078H708M695 1086H708M695 1094H708"/>
<path class="w" d="M691 991V1009Q702 1015 713 1009V991Z"/>
<path class="th" d="M695 993V1010M699 993V1011M703 993V1011M708 993V1010"/>
<ellipse class="w" cx="702" cy="992" rx="11" ry="5"/>
<ellipse cx="702" cy="992" rx="6" ry="2.500"/>
<path class="w m" d="M682 1128V1133Q702 1147 722 1133V1128Z"/>
<ellipse class="w m" cx="702" cy="1127" rx="19" ry="9"/>
<ellipse class="m" cx="702" cy="1127" rx="8" ry="4"/>
<path class="w m" d="M615 1135V1141Q634 1155 653 1141V1135Z"/>
<ellipse class="w m" cx="634" cy="1134" rx="19" ry="9"/>
<ellipse class="m" cx="634" cy="1134" rx="8" ry="4"/>
<path class="w m" d="M189 711L230 722Q236 727 232 733L189 720Q186 715 189 711Z"/>
<path class="th" d="M195 712L193 721M201 714L199 723M207 716L205 725M213 718L211 727M219 720L217 729M225 722L223 731"/>
<path d="M235 730L336 757"/>
<g font-size="17">
<text transform="translate(552 486) scale(.72 1)">C</text>
<text transform="translate(663 421) scale(.72 1)">B</text>
<text transform="translate(882 452) scale(.72 1)">C</text>
<text transform="translate(416 913) scale(.72 1)">A</text>
<text transform="translate(630 1197) scale(.72 1)">A</text>
<text transform="translate(698 1177) scale(.72 1)">B</text>
</g>
<g font-size="19" letter-spacing="6">
<text transform="translate(251 254.500) scale(.72 1)">92055A</text>
<text transform="translate(769 258.500) scale(.72 1)">92001</text>
<text transform="translate(926 294.500) scale(.72 1)">92150C</text>
<text transform="translate(772 382.500) scale(.72 1)">92043</text>
<text transform="translate(936 391.500) scale(.72 1)">92200A</text>
<text transform="translate(769 477.500) scale(.72 1)">49002</text>
<text transform="translate(757 517.500) scale(.72 1)">92033</text>
<text transform="translate(901 490.500) scale(.72 1)">92002</text>
<text transform="translate(425 521.500) scale(.72 1)">92066</text>
<text transform="translate(141 482.500) scale(.72 1)">92150D</text>
<text transform="translate(130 576.500) scale(.72 1)">92200A</text>
<text transform="translate(991 648.500) scale(.72 1)">92170</text>
<text transform="translate(908 691.500) scale(.72 1)">16065</text>
<text transform="translate(848 718.500) scale(.72 1)">92055</text>
<text transform="translate(824 753.500) scale(.72 1)">92022A</text>
<text transform="translate(884 782.500) scale(.72 1)">92150</text>
<text transform="translate(748 786.500) scale(.72 1)">92022A</text>
<text transform="translate(179 776.500) scale(.72 1)">92004</text>
<text transform="translate(675 819.500) scale(.72 1)">92022A</text>
<text transform="translate(614 853.500) scale(.72 1)">92022A</text>
<text transform="translate(189 851.500) scale(.72 1)">11008</text>
<text transform="translate(291 891.500) scale(.72 1)">92066A</text>
<text transform="translate(807 893.500) scale(.72 1)">132</text>
<text transform="translate(744 930.500) scale(.72 1)">132</text>
<text transform="translate(656 959.500) scale(.72 1)">92150</text>
<text transform="translate(993 931.500) scale(.72 1)">92150</text>
<text transform="translate(928 969.500) scale(.72 1)">92150</text>
<text transform="translate(872 1003.500) scale(.72 1)">92150</text>
<text transform="translate(801 1035.500) scale(.72 1)">92150</text>
<text transform="translate(898 1089.500) scale(.72 1)">(CA)</text>
<text transform="translate(367 1005.500) scale(.72 1)">92055B</text>
<text transform="translate(197 1022.500) scale(.72 1)">670</text>
<text transform="translate(267 1030.500) scale(.72 1)">11009</text>
<text transform="translate(526 1056.500) scale(.72 1)">92150E</text>
<text transform="translate(737 1082.500) scale(.72 1)">92150B</text>
<text transform="translate(129 1117.500) scale(.72 1)">92150A</text>
<text transform="translate(419 1171.500) scale(.72 1)">14024</text>
<text transform="translate(527 1141.500) scale(.72 1)">92200</text>
<text transform="translate(751 1133.500) scale(.72 1)">92022</text>
<text transform="translate(331 1205.500) scale(.72 1)">220</text>
<text transform="translate(181 1211.500) scale(.72 1)">51044</text>
<text transform="translate(516 1257.500) scale(.72 1)">92043A</text>
<text transform="translate(906 1289.500) scale(.72 1)">11004</text>
<text transform="translate(204 1321.500) scale(.72 1)">132A</text>
<text transform="translate(420 1338.500) scale(.72 1)">670A</text>
</g>
<text font-size="13" font-weight="700" letter-spacing="6.200" transform="translate(1012 194.500) scale(.72 1)">E1111</text>
</g>
</svg>
</body></html>
